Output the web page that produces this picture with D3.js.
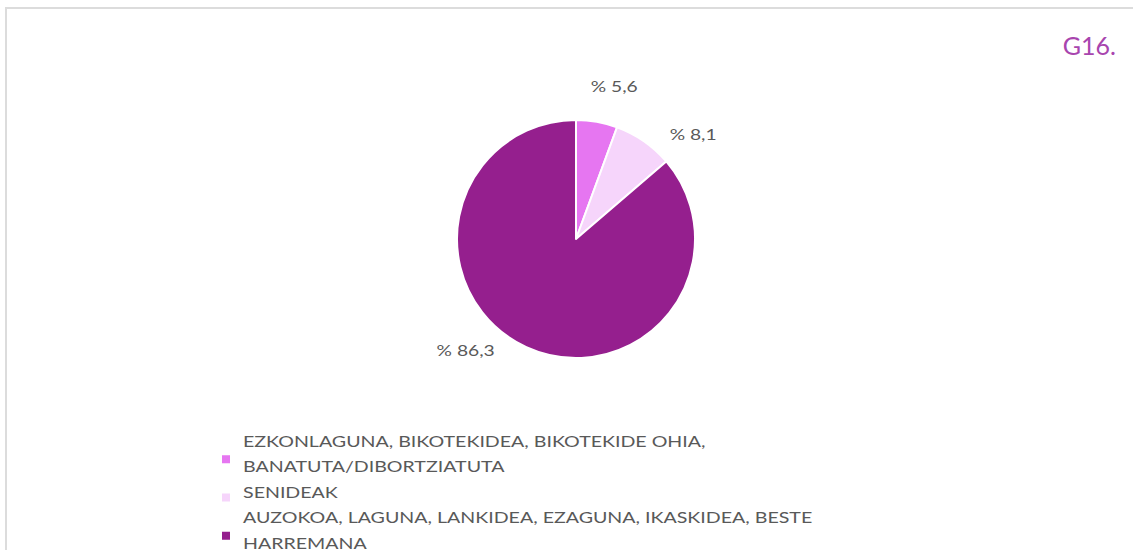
<!DOCTYPE html>
<html>
<head>
<meta charset="utf-8">
<script src="https://cdn.jsdelivr.net/npm/d3@7"></script>
<style>
  html, body { margin: 0; padding: 0; background: #fff; }
  svg { display: block; }
</style>
</head>
<body>
<script>
// data
const categories = [
  "EZKONLAGUNA, BIKOTEKIDEA, BIKOTEKIDE OHIA, BANATUTA/DIBORTZIATUTA",
  "SENIDEAK",
  "AUZOKOA, LAGUNA, LANKIDEA, EZAGUNA, IKASKIDEA, BESTE HARREMANA"
];
const legendLines = [
  ["EZKONLAGUNA, BIKOTEKIDEA, BIKOTEKIDE OHIA,", "BANATUTA/DIBORTZIATUTA"],
  ["SENIDEAK"],
  ["AUZOKOA, LAGUNA, LANKIDEA, EZAGUNA, IKASKIDEA, BESTE", "HARREMANA"]
];
const values = [5.6, 8.1, 86.3];
const colors = ["#e676f1", "#f6d5fb", "#951f8e"];
const title = "G16.";

// layout
const W = 1133, H = 550;
const cx = 576, cy = 239, r = 119;
const labelR = 157;
const labelNudgeDeg = [4, 13.5, 20];   // excel pushes labels clockwise
const font = "Lato, 'Open Sans', sans-serif";
const grey = "#595959";

const svg = d3.select(document.body).append("svg")
  .attr("width", W)
  .attr("height", H);

// chart frame
svg.append("rect")
  .attr("x", 6).attr("y", 8)
  .attr("width", W + 20).attr("height", H + 20)
  .attr("fill", "none")
  .attr("stroke", "#dcdcdc")
  .attr("stroke-width", 2);

svg.append("text")
  .attr("x", 1116).attr("y", 55)
  .attr("text-anchor", "end")
  .attr("font-family", font)
  .attr("font-size", 25)
  .attr("fill", "#a845ae")
  .text(title);

const pie = d3.pie().sort(null).value(d => d);
const arcs = pie(values);
const arc = d3.arc().innerRadius(0).outerRadius(r);

const g = svg.append("g").attr("transform", `translate(${cx},${cy})`);

g.selectAll("path")
  .data(arcs)
  .join("path")
  .attr("d", arc)
  .attr("fill", (d, i) => colors[i])
  .attr("stroke", "#fff")
  .attr("stroke-width", 2)
  .attr("stroke-linejoin", "round");

// labels are a bit wider in the original (calibri), stretch to match
const lbl = g.selectAll("text.lbl")
  .data(arcs)
  .join("text")
  .attr("class", "lbl")
  .attr("text-anchor", "middle")
  .attr("dominant-baseline", "central")
  .attr("font-family", font)
  .attr("font-size", 15)
  .attr("fill", grey)
  .text(d => "% " + d3.format(".1f")(d.data).replace(".", ","));
const lblScale = 47 / lbl.node().getComputedTextLength();
lbl.attr("transform", (d, i) => {
  const a = (d.startAngle + d.endAngle) / 2 + labelNudgeDeg[i] * Math.PI / 180;
  return `translate(${labelR * Math.sin(a)},${-labelR * Math.cos(a)}) scale(${lblScale},1)`;
});

// legend
const lx = 243, lineH = 25.5, firstBase = 447;
let line = 0;
const leg = svg.append("g");
const txt = leg.append("g");
legendLines.forEach((lines, i) => {
  const start = line;
  lines.forEach(t => {
    txt.append("text")
      .attr("x", 0)
      .attr("y", firstBase + line * lineH)
      .attr("font-family", font)
      .attr("font-size", 16)
      .attr("fill", grey)
      .text(t);
    line++;
  });
  const mid = firstBase - 5.5 + ((start + line - 1) / 2) * lineH;
  leg.append("rect")
    .attr("x", 222)
    .attr("y", mid + 5 - 4)
    .attr("width", 8).attr("height", 8)
    .attr("fill", colors[i]);
});
const legScale = 463 / txt.select("text").node().getComputedTextLength();
txt.attr("transform", `translate(${lx},0) scale(${legScale},1)`);
</script>
</body>
</html>
